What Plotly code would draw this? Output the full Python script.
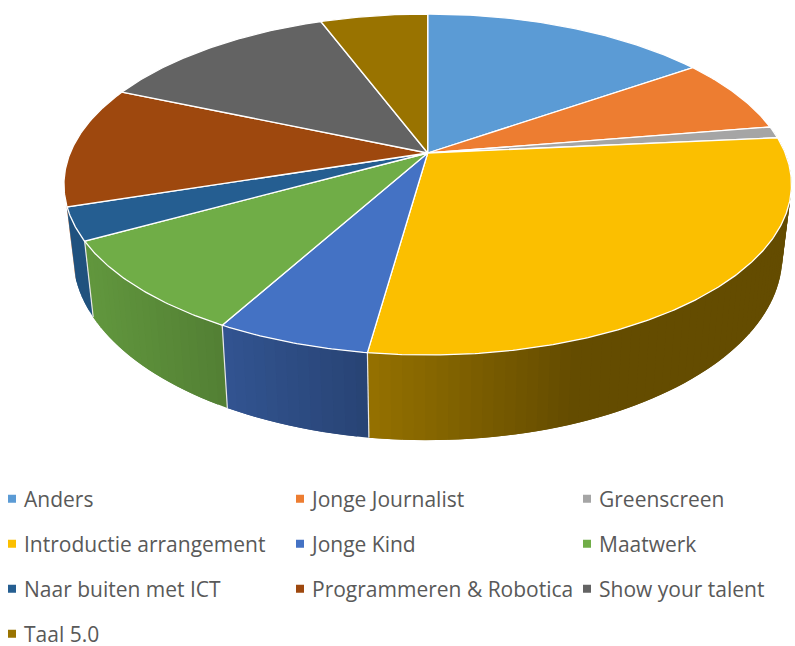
import numpy as np
import plotly.graph_objects as go

categories = ["Anders", "Jonge Journalist", "Greenscreen", "Introductie arrangement", "Jonge Kind",
              "Maatwerk", "Naar buiten met ICT", "Programmeren & Robotica", "Show your talent", "Taal 5.0"]
shares = [15.3, 7.1, 1.1, 28.7, 5.8, 8.9, 3.1, 11.5, 12.8, 5.7]
colors = ["#5B9BD5", "#ED7D31", "#A5A5A5", "#FBBF00", "#4472C4",
          "#70AD47", "#255E91", "#9E480E", "#636363", "#997300"]

# perspective model of the tilted pie, in page pixels
CX, CY, A, B, K = 427.7, 153.0, 357.5, 164.7, 0.1847
W, H = 795, 646


def top(theta):
    t = np.radians(theta)
    u, v = np.sin(t), np.cos(t)
    w = 1 + K * v
    return CX + A * u / w, CY - B * v / w


def bottom(theta):
    x, y = top(theta)
    return CX + (x - CX) * 0.975, y + 85 + 0.08 * (y - 353)


def shade(hexcol, f):
    r, g, b = int(hexcol[1:3], 16), int(hexcol[3:5], 16), int(hexcol[5:7], 16)
    return f"rgb({int(r*f)},{int(g*f)},{int(b*f)})"


edges = np.concatenate([[0], np.cumsum(shares) / np.sum(shares) * 360])
fig = go.Figure()

# side wall: overlapping strips giving the horizontal gradient, far slices first
order = sorted(range(len(shares)), key=lambda i: -abs((edges[i] + edges[i + 1]) / 2 - 180))
for i in order:
    a0, a1 = max(edges[i], 80), min(edges[i + 1], 253)
    if a1 <= a0:
        continue
    n = max(1, int((a1 - a0) / 1.5))
    th = np.linspace(a0, a1, n + 1)
    # each strip runs on under the next one, so no white shows between them
    for j in range(n):
        seg = np.linspace(th[j], th[min(j + 2, n)], 5)
        xt, yt = top(seg)
        xb, yb = bottom(seg)
        f = float(np.interp(top(th[j])[0], [66, 92, 228, 368, 580, 795], [.88, .87, .74, .6, .4, .4]))
        c = shade(colors[i], f)
        fig.add_trace(go.Scatter(x=np.r_[xt, xb[::-1], xt[0]], y=np.r_[yt, yb[::-1], yt[0]],
                                 mode="lines", fill="toself", fillcolor=c, line=dict(width=0),
                                 hoverinfo="skip", showlegend=False))

# white seams between wall slices
for e in edges:
    if 85 < e < 250:
        xt, yt = top(e)
        xb, yb = bottom(e)
        fig.add_trace(go.Scatter(x=[xt, xb], y=[yt, yb], mode="lines",
                                 line=dict(color="#E8E8E8", width=1.2), hoverinfo="skip", showlegend=False))

# top faces
for i, name in enumerate(categories):
    th = np.linspace(edges[i], edges[i + 1], max(3, int(edges[i + 1] - edges[i]) * 2))
    xs, ys = top(th)
    fig.add_trace(go.Scatter(x=np.r_[CX, xs, CX], y=np.r_[CY, ys, CY], mode="lines", fill="toself",
                             fillcolor=colors[i], line=dict(color="white", width=1.3),
                             name=name, hovertemplate=f"{name}: {shares[i]}%<extra></extra>", showlegend=False))

# legend entries: three columns, and the last row in its own legend so it stays inside the page
legend_ids = ["legend", "legend2", "legend3"]
for i, name in enumerate(categories):
    lid = "legend4" if i == 9 else legend_ids[i % 3]
    fig.add_trace(go.Scatter(x=[None], y=[None], mode="markers", name=name, legend=lid,
                             legendgroup=name,
                             marker=dict(symbol="square", size=8, color=colors[i])))

legend_common = dict(orientation="v", xanchor="left", yanchor="top",
                     bgcolor="rgba(0,0,0,0)", borderwidth=0, itemclick=False, itemdoubleclick=False,
                     tracegroupgap=14.7, font=dict(family="Open Sans", size=21, color="#595959"))
rows_top = 1 - 478.5 / H
fig.update_layout(
    width=W, height=H, margin=dict(l=0, r=0, t=0, b=0, autoexpand=False),
    paper_bgcolor="white", plot_bgcolor="white",
    xaxis=dict(range=[0, W], visible=False, fixedrange=True, domain=[0, 1]),
    yaxis=dict(range=[H, 0], visible=False, fixedrange=True, domain=[0, 1]),
    legend=dict(x=-16 / W, y=rows_top, **legend_common),
    legend2=dict(x=272 / W, y=rows_top, **legend_common),
    legend3=dict(x=559 / W, y=rows_top, **legend_common),
    legend4=dict(x=-16 / W, y=1 - 613.5 / H, **legend_common),
)

post = """
document.body.style.margin='0';
document.querySelectorAll('.legend .scatterpts, .legend2 .scatterpts, .legend3 .scatterpts, .legend4 .scatterpts').forEach(function(p){p.setAttribute('transform','translate(28,0)');});
"""
fig.write_html("out.html", post_script=post, config=dict(displayModeBar=False))
